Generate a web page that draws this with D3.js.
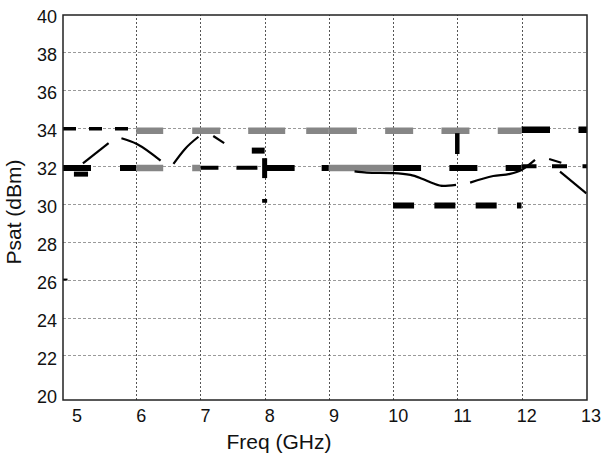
<!DOCTYPE html>
<html>
<head>
<meta charset="utf-8">
<script src="https://cdn.jsdelivr.net/npm/d3@7"></script>
<style>
  html, body { margin: 0; padding: 0; background: #fff; }
  svg { display: block; }
  text { font-family: "Liberation Sans", Arial, sans-serif; fill: #111; }
</style>
</head>
<body>
<svg id="chart" width="606" height="456"></svg>
<script>
// ---- tick values ----
const freqTicks = [5, 6, 7, 8, 9, 10, 11, 12, 13];
const psatTicks = [20, 22, 24, 26, 28, 30, 32, 34, 36, 38, 40];
const freqGrid = [6, 7, 8, 9, 10, 11, 12];
const psatGrid = [22, 24, 26, 28, 30, 32, 34, 36, 38];

// ---- measured Psat trace (broken into its drawn pieces), [GHz, dBm] ----
const measuredPieces = [
  [[5.17, 32.13], [5.57, 33.19]],
  [[5.77, 33.45], [6.01, 33.15], [6.38, 32.27]],
  [[6.58, 32.10], [6.76, 32.89], [6.97, 33.53]],
  [[7.20, 33.57], [7.37, 33.19]],
  [[9.40, 31.70], [9.59, 31.64], [10.00, 31.61], [10.27, 31.52], [10.45, 31.32],
   [10.62, 31.08], [10.78, 30.94], [10.98, 30.99]],
  [[11.20, 31.11], [11.56, 31.46], [11.82, 31.57], [12.00, 31.78], [12.21, 32.31]],
  [[12.43, 32.36], [12.62, 32.16]],
  [[12.60, 31.69], [13.01, 30.55]]
];

// ---- level traces, [GHz, dBm] ----
const upperThinLeft   = [[4.86, 33.95], [6, 33.95]];
const upperGrayA      = [[6, 33.85], [9, 33.85]];
const upperGrayB      = [[9, 33.85], [12, 33.85]];
const upperRight      = [[12, 33.9], [13.02, 33.9]];
const midLeft         = [[4.86, 31.88], [6, 31.88]];
const midNotch        = [[5.03, 31.56], [5.25, 31.56]];
const midGrayA        = [[6, 31.88], [7, 31.88]];
const midThinA        = [[7, 31.9], [7.9, 31.9]];
const midCenter       = [[8, 31.88], [9, 31.88]];
const midGrayB        = [[9, 31.88], [10, 31.88]];
const midRight        = [[10, 31.88], [12, 31.88]];
const midThinB        = [[12, 31.97], [13.02, 31.97]];
const lowerRight      = [[10, 29.9], [12, 29.9]];
const step8           = [[7.8, 32.8], [8, 32.8]];
const bar8            = [[8, 31.35], [8, 32.4]];
const dot8            = [[8, 30.05], [8, 30.25]];
const bar11           = [[11, 32.62], [11, 33.72]];
const axisMark        = [[4.86, 26], [4.93, 26]];

// ---- scales ----
const svg = d3.select("#chart");
const x = d3.scaleLinear().domain([4.86, 13.02]).range([63, 587]);
const y = d3.scaleLinear().domain([19.65, 39.95]).range([400, 15]);
// tick labels sit slightly right of / below their grid positions
const xLab = d3.scaleLinear().domain([5, 13]).range([77, 591]);
const yLab = d3.scaleLinear().domain([20, 40]).range([397, 16.7]);

const line = d3.line().x(d => x(d[0])).y(d => y(d[1]));
const smooth = d3.line().x(d => x(d[0])).y(d => y(d[1])).curve(d3.curveMonotoneX);

svg.append("defs").append("clipPath").attr("id", "plot-clip")
  .append("rect").attr("x", 63).attr("y", 15).attr("width", 524).attr("height", 385);

// ---- grid ----
const grid = svg.append("g");
grid.selectAll("line.h").data(psatGrid).join("line")
  .attr("x1", x.range()[0]).attr("x2", x.range()[1])
  .attr("y1", d => Math.round(y(d)) + 0.5).attr("y2", d => Math.round(y(d)) + 0.5)
  .attr("stroke", "#9a9a9a").attr("stroke-width", 1).attr("stroke-dasharray", "3,2");
grid.selectAll("line.v").data(freqGrid).join("line")
  .attr("y1", y.range()[0]).attr("y2", y.range()[1])
  .attr("x1", d => Math.round(x(d)) + 0.5).attr("x2", d => Math.round(x(d)) + 0.5)
  .attr("stroke", "#555").attr("stroke-width", 1).attr("stroke-dasharray", "2,2");

// ---- traces ----
const plot = svg.append("g").attr("clip-path", "url(#plot-clip)");
const BLACK = "#000", GRAY = "#868686";
const traces = [
  { pts: upperThinLeft, color: BLACK, w: 3.5, dash: "13,13" },
  { pts: midLeft,       color: BLACK, w: 6,   dash: "28,29" },
  { pts: midNotch,      color: BLACK, w: 5,   dash: null },
  { pts: midThinA,      color: BLACK, w: 4,   dash: "18,18,21,10" },
  { pts: midCenter,     color: BLACK, w: 6,   dash: "30,27" },
  { pts: midRight,      color: BLACK, w: 6,   dash: "28,28.3" },
  { pts: midThinB,      color: BLACK, w: 4,   dash: "15,15.5" },
  { pts: lowerRight,    color: BLACK, w: 6,   dash: "21,20.3" },
  { pts: upperRight,    color: BLACK, w: 6.5, dash: "28.5,28.5" },
  { pts: step8,         color: BLACK, w: 6,   dash: null },
  { pts: upperGrayA,    color: GRAY,  w: 6.5, dash: "27,29,28,28,37,21,23,10" },
  { pts: upperGrayB,    color: GRAY,  w: 6.5, dash: "28,28.3" },
  { pts: midGrayA,      color: GRAY,  w: 6.5, dash: "27,29" },
  { pts: midGrayB,      color: GRAY,  w: 6.5, dash: null },
  { pts: bar8,          color: BLACK, w: 5,   dash: null },
  { pts: dot8,          color: BLACK, w: 5,   dash: null },
  { pts: bar11,         color: BLACK, w: 4.5, dash: null }
];
plot.selectAll("path.trace").data(traces).join("path")
  .attr("class", "trace")
  .attr("d", d => line(d.pts))
  .attr("fill", "none")
  .attr("stroke", d => d.color)
  .attr("stroke-width", d => d.w)
  .attr("stroke-dasharray", d => d.dash);

plot.selectAll("path.measured").data(measuredPieces).join("path")
  .attr("class", "measured")
  .attr("d", smooth)
  .attr("fill", "none")
  .attr("stroke", "#000")
  .attr("stroke-width", 2.2)
  .attr("stroke-linecap", "butt");

svg.append("path").attr("d", line(axisMark))
  .attr("stroke", "#000").attr("stroke-width", 2).attr("fill", "none");

// ---- frame ----
svg.append("rect")
  .attr("x", 63).attr("y", 15).attr("width", 524).attr("height", 385)
  .attr("fill", "none").attr("stroke", "#222").attr("stroke-width", 1.5);

// ---- tick labels ----
svg.append("g").selectAll("text").data(freqTicks).join("text")
  .attr("x", d => xLab(d)).attr("y", 422)
  .attr("text-anchor", "middle").attr("font-size", 18)
  .text(d => d);
svg.append("g").selectAll("text").data(psatTicks).join("text")
  .attr("x", 57).attr("y", d => yLab(d) + 6.4)
  .attr("text-anchor", "end").attr("font-size", 18)
  .text(d => d);

// ---- axis titles ----
svg.append("text")
  .attr("x", 279).attr("y", 449)
  .attr("text-anchor", "middle").attr("font-size", 21)
  .text("Freq (GHz)");
svg.append("text")
  .attr("transform", "translate(21,212) rotate(-90)")
  .attr("text-anchor", "middle").attr("font-size", 21)
  .text("Psat (dBm)");
</script>
</body>
</html>
